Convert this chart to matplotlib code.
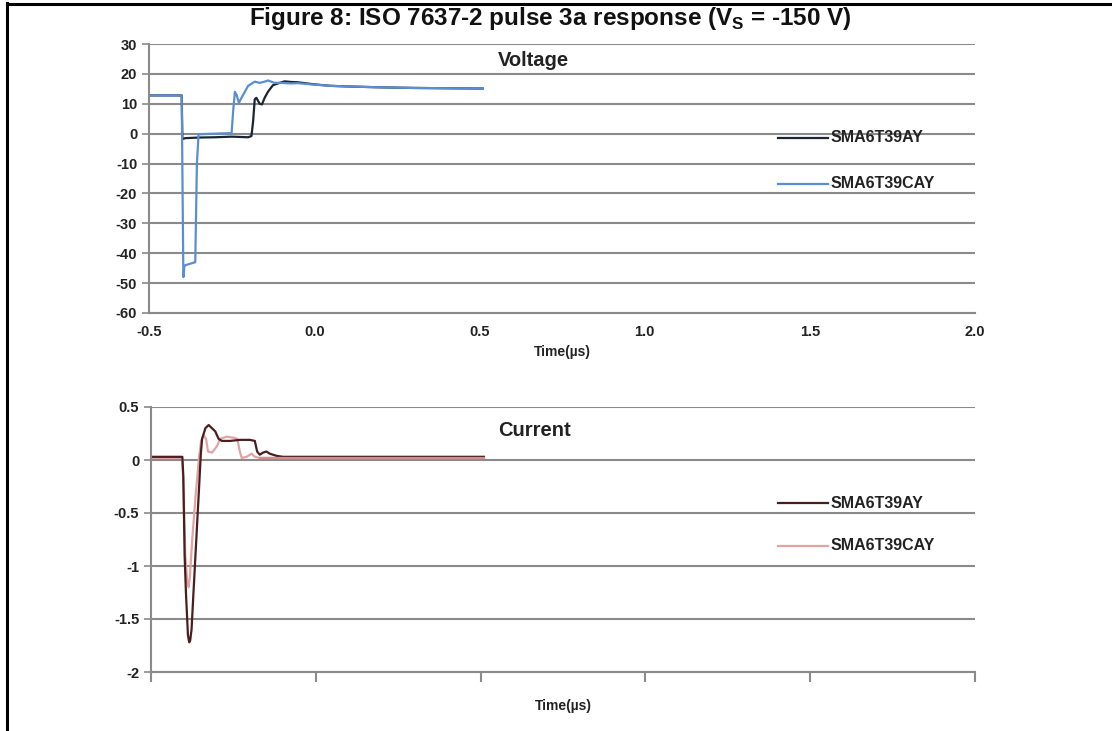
import matplotlib
matplotlib.use("Agg")
import matplotlib.pyplot as plt
from matplotlib.lines import Line2D

plt.rcParams['font.family'] = ['Liberation Sans', 'DejaVu Sans']
plt.rcParams['font.weight'] = 'bold'
plt.rcParams['axes.unicode_minus'] = False
plt.rcParams['mathtext.fontset'] = 'custom'
plt.rcParams['mathtext.bf'] = 'Liberation Sans:bold'
plt.rcParams['mathtext.rm'] = 'Liberation Sans:bold'

# ---- data (time in microseconds) ----
v_ay_t = [-0.5, -0.401, -0.399, -0.39, -0.35, -0.30, -0.25, -0.20, -0.19, -0.185, -0.18, -0.175,
          -0.165, -0.158, -0.15, -0.14, -0.125, -0.11, -0.09, -0.07, -0.05, 0.0, 0.05, 0.1, 0.2,
          0.3, 0.4, 0.51]
v_ay = [12.8, 12.8, -1.8, -1.5, -1.3, -1.2, -1.0, -1.2, -0.8, 4, 11.5, 12, 10, 9.8, 12, 14,
        16.2, 16.8, 17.5, 17.3, 17.2, 16.5, 16.0, 15.8, 15.5, 15.3, 15.2, 15.1]

v_cay_t = [-0.5, -0.401, -0.396, -0.393, -0.39, -0.375, -0.36, -0.355, -0.35, -0.3, -0.25,
           -0.245, -0.24, -0.235, -0.228, -0.22, -0.2, -0.18, -0.165, -0.15, -0.14, -0.12,
           -0.1, -0.07, -0.05, 0.0, 0.05, 0.1, 0.2, 0.3, 0.4, 0.51]
v_cay = [12.8, 12.8, -48, -44.5, -44, -43.5, -43, -10, -0.2, 0.0, 0.2, 8, 14, 13, 10.3, 12,
         16, 17.4, 17.0, 17.4, 17.8, 17.0, 17.0, 16.8, 16.9, 16.4, 16.0, 15.8, 15.5, 15.3,
         15.2, 15.1]

i_ay_t = [-0.5, -0.405, -0.402, -0.398, -0.394, -0.388, -0.384, -0.381, -0.377, -0.372,
          -0.366, -0.36, -0.354, -0.349, -0.345, -0.335, -0.325, -0.315, -0.305, -0.295,
          -0.285, -0.26, -0.23, -0.2, -0.185, -0.178, -0.17, -0.16, -0.15, -0.14, -0.12,
          -0.1, 0.0, 0.2, 0.51]
i_ay = [0.03, 0.03, -0.15, -0.9, -1.25, -1.65, -1.72, -1.7, -1.6, -1.3, -0.95, -0.6, -0.25,
        0.05, 0.2, 0.3, 0.33, 0.3, 0.27, 0.2, 0.18, 0.18, 0.19, 0.19, 0.18, 0.08, 0.05, 0.07,
        0.08, 0.06, 0.04, 0.03, 0.03, 0.03, 0.03]

i_cay_t = [-0.5, -0.405, -0.401, -0.396, -0.39, -0.386, -0.382, -0.375, -0.365, -0.355,
           -0.348, -0.34, -0.333, -0.327, -0.315, -0.3, -0.29, -0.27, -0.25, -0.238, -0.232,
           -0.225, -0.21, -0.195, -0.185, -0.17, 0.0, 0.51]
i_cay = [0.02, 0.02, -0.3, -0.9, -1.15, -1.2, -1.1, -0.75, -0.35, 0.0, 0.18, 0.23, 0.2,
         0.08, 0.07, 0.13, 0.2, 0.22, 0.21, 0.2, 0.1, 0.02, 0.03, 0.06, 0.03, 0.02, 0.02, 0.02]

x_ticks = [-0.5, 0.0, 0.5, 1.0, 1.5, 2.0]
x_tick_labels = ['-0.5', '0.0', '0.5', '1.0', '1.5', '2.0']
v_ticks = [30, 20, 10, 0, -10, -20, -30, -40, -50, -60]
i_ticks = [0.5, 0, -0.5, -1, -1.5, -2]
i_tick_labels = ['0.5', '0', '-0.5', '-1', '-1.5', '-2']
series_names = ['SMA6T39AY', 'SMA6T39CAY']

W, H = 1112, 731
fig = plt.figure(figsize=(W / 100, H / 100), dpi=100)

grid_c = '#8a8a8a'

def style_axes(ax):
    for s in ['top', 'right']:
        ax.spines[s].set_visible(False)
    ax.spines['left'].set_color(grid_c)
    ax.spines['bottom'].set_color(grid_c)
    ax.spines['left'].set_linewidth(1.5)
    ax.spines['bottom'].set_linewidth(1.5)
    ax.yaxis.grid(True, color=grid_c, linewidth=1.5)
    ax.set_axisbelow(True)
    ax.tick_params(axis='y', colors=grid_c, length=5, width=1.2, labelsize=10.5,
                   labelcolor='#222222')

# ---- top: voltage ----
ax1 = fig.add_axes([149 / W, 1 - 313 / H, (975 - 149) / W, (313 - 44) / H])
style_axes(ax1)
ax1.plot(v_ay_t, v_ay, color='#1c2433', lw=1.6)
ax1.plot(v_cay_t, v_cay, color='#5a8ed4', lw=1.6)
ax1.set_xlim(-0.5, 2.0)
ax1.set_ylim(-60, 30)
ax1.set_yticks(v_ticks)
ax1.set_xticks(x_ticks)
ax1.set_xticklabels(x_tick_labels)
ax1.tick_params(axis='x', length=0, labelsize=10.5, labelcolor='#222222', pad=9)
for lab in ax1.get_xticklabels() + ax1.get_yticklabels():
    lab.set_fontweight('bold')
ax1.set_xlabel('Time(µs)', fontsize=10, fontweight='bold', labelpad=4, color='#222222')
ax1.text((533 - 149) / 826, (313 - 60) / 269, 'Voltage', transform=ax1.transAxes,
         ha='center', va='center', fontsize=14.5, fontweight='bold', color='#222222')

# legend (manual)
def leg(ax, xf, yf, color, name, w, lw=1.6):
    ax.add_artist(Line2D([xf, xf + 50 / w], [yf, yf], transform=ax.transAxes,
                         color=color, lw=lw))
    ax.text(xf + 53 / w, yf, name, transform=ax.transAxes, ha='left', va='center',
            fontsize=11.5, fontweight='bold', color='#222222')

leg(ax1, (778 - 149) / 826, (313 - 138) / 269, '#1c2433', series_names[0], 826)
leg(ax1, (778 - 149) / 826, (313 - 184) / 269, '#5a8ed4', series_names[1], 826)

# ---- bottom: current ----
ax2 = fig.add_axes([151 / W, 1 - 672 / H, (975 - 151) / W, (672 - 407) / H])
style_axes(ax2)
ax2.plot(i_cay_t, i_cay, color='#e3a3a3', lw=1.6)
ax2.plot(i_ay_t, i_ay, color='#4a1e1e', lw=1.6)
ax2.plot(i_cay_t[-3:], i_cay[-3:], color='#d98a8a', lw=1.6)
ax2.set_xlim(-0.5, 2.0)
ax2.set_ylim(-2, 0.5)
ax2.set_yticks(i_ticks)
ax2.set_yticklabels(i_tick_labels)
ax2.set_xticks(x_ticks)
ax2.set_xticklabels([''] * len(x_ticks))
ax2.tick_params(axis='x', colors=grid_c, length=7, width=1.5, direction='out')
for lab in ax2.get_yticklabels():
    lab.set_fontweight('bold')
ax2.set_xlabel('Time(µs)', fontsize=10, fontweight='bold', labelpad=9, color='#222222')
ax2.text((534 - 151) / 824, (672 - 430) / 265, 'Current', transform=ax2.transAxes,
         ha='center', va='center', fontsize=14.5, fontweight='bold', color='#222222')

leg(ax2, (778 - 151) / 824, (672 - 503) / 265, '#4a1e1e', series_names[0], 824)
leg(ax2, (778 - 151) / 824, (672 - 546) / 265, '#e3a3a3', series_names[1], 824)

# ---- figure title and frame ----
fig.text(550 / W, 1 - 19 / H, r'Figure 8: ISO 7637-2 pulse 3a response (V$_{\mathrm{S}}$ = -150 V)',
         ha='center', va='center', fontsize=17.5, fontweight='bold', color='#111111')
fig.add_artist(Line2D([6.5 / W, 6.5 / W], [0, 1 - 3 / H], transform=fig.transFigure,
                      color='black', lw=2.2))
fig.add_artist(Line2D([6.5 / W, 1], [1 - 3.5 / H, 1 - 3.5 / H], transform=fig.transFigure,
                      color='black', lw=2.2))

fig.savefig('out.png', dpi=100)
